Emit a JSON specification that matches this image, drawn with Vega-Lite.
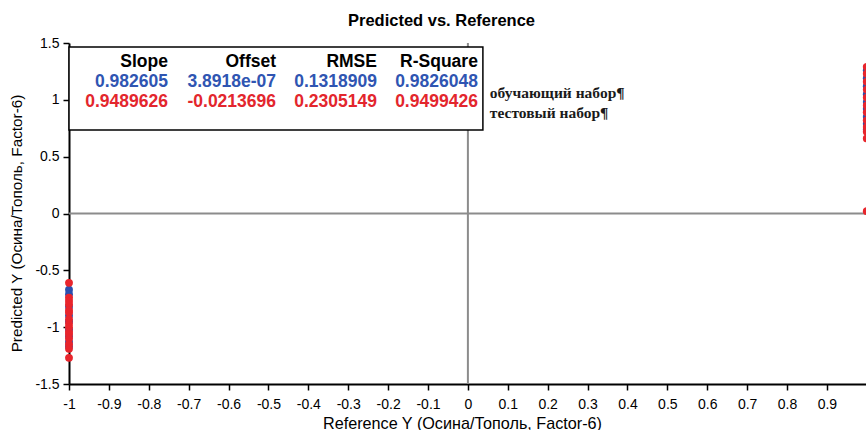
{
  "$schema": "https://vega.github.io/schema/vega-lite/v6.json",
  "width": 797,
  "height": 341,
  "autosize": "none",
  "padding": {"left": 69, "top": 43, "right": 0, "bottom": 46},
  "background": "white",
  "title": {
    "text": "Predicted vs. Reference",
    "font": "Liberation Sans",
    "fontSize": 16.5,
    "fontWeight": "bold",
    "color": "black",
    "offset": 7,
    "dx": -26
  },
  "datasets": {
    "points": [
      {"ref": -1, "pred": -0.67, "set": "train"},
      {"ref": -1, "pred": -0.71, "set": "train"},
      {"ref": -1, "pred": -0.82, "set": "train"},
      {"ref": -1, "pred": -0.90, "set": "train"},
      {"ref": -1, "pred": -0.95, "set": "train"},
      {"ref": -1, "pred": -1.02, "set": "train"},
      {"ref": -1, "pred": -1.08, "set": "train"},
      {"ref": -1, "pred": -1.13, "set": "train"},
      {"ref": -1, "pred": -1.17, "set": "train"},
      {"ref": 1, "pred": 1.26, "set": "train"},
      {"ref": 1, "pred": 1.19, "set": "train"},
      {"ref": 1, "pred": 1.12, "set": "train"},
      {"ref": 1, "pred": 1.05, "set": "train"},
      {"ref": 1, "pred": 0.98, "set": "train"},
      {"ref": 1, "pred": 0.92, "set": "train"},
      {"ref": 1, "pred": 0.85, "set": "train"},
      {"ref": 1, "pred": 0.79, "set": "train"},
      {"ref": 1, "pred": 0.74, "set": "train"},
      {"ref": -1, "pred": -0.61, "set": "test"},
      {"ref": -1, "pred": -0.74, "set": "test"},
      {"ref": -1, "pred": -0.77, "set": "test"},
      {"ref": -1, "pred": -0.80, "set": "test"},
      {"ref": -1, "pred": -0.85, "set": "test"},
      {"ref": -1, "pred": -0.87, "set": "test"},
      {"ref": -1, "pred": -0.93, "set": "test"},
      {"ref": -1, "pred": -0.97, "set": "test"},
      {"ref": -1, "pred": -1.00, "set": "test"},
      {"ref": -1, "pred": -1.04, "set": "test"},
      {"ref": -1, "pred": -1.06, "set": "test"},
      {"ref": -1, "pred": -1.10, "set": "test"},
      {"ref": -1, "pred": -1.15, "set": "test"},
      {"ref": -1, "pred": -1.19, "set": "test"},
      {"ref": -1, "pred": -1.27, "set": "test"},
      {"ref": 1, "pred": 1.29, "set": "test"},
      {"ref": 1, "pred": 1.23, "set": "test"},
      {"ref": 1, "pred": 1.16, "set": "test"},
      {"ref": 1, "pred": 1.09, "set": "test"},
      {"ref": 1, "pred": 1.02, "set": "test"},
      {"ref": 1, "pred": 0.95, "set": "test"},
      {"ref": 1, "pred": 0.89, "set": "test"},
      {"ref": 1, "pred": 0.82, "set": "test"},
      {"ref": 1, "pred": 0.76, "set": "test"},
      {"ref": 1, "pred": 0.72, "set": "test"},
      {"ref": 1, "pred": 0.66, "set": "test"},
      {"ref": 1, "pred": 0.02, "set": "test"}
    ],
    "fit": [
      {"set": "train", "Slope": "0.982605", "Offset": "3.8918e-07", "RMSE": "0.1318909", "RSquare": "0.9826048"},
      {"set": "test", "Slope": "0.9489626", "Offset": "-0.0213696", "RMSE": "0.2305149", "RSquare": "0.9499426"}
    ],
    "one": [{}]
  },
  "config": {
    "view": {"stroke": null},
    "axis": {
      "grid": false,
      "domainColor": "black",
      "domainWidth": 2,
      "tickColor": "black",
      "tickWidth": 1.5,
      "labelFont": "Liberation Sans",
      "labelFontSize": 14,
      "labelColor": "black",
      "labelPadding": 4,
      "labelOverlap": false,
      "labelFlush": false,
      "titleFont": "Liberation Sans",
      "titleFontSize": 15,
      "titleFontWeight": "normal",
      "titleColor": "black"
    },
    "text": {"font": "Liberation Sans", "fontSize": 17.5, "fontWeight": "bold", "align": "right", "baseline": "middle"}
  },
  "layer": [
    {
      "data": {"name": "one"},
      "mark": {"type": "rule", "color": "#8c8c8c", "strokeWidth": 2},
      "encoding": {"x": {"datum": 0, "type": "quantitative"}}
    },
    {
      "data": {"name": "one"},
      "mark": {"type": "rule", "color": "#8c8c8c", "strokeWidth": 2},
      "encoding": {"y": {"datum": 0, "type": "quantitative"}}
    },
    {
      "data": {"name": "points"},
      "mark": {"type": "point", "filled": true, "size": 62, "opacity": 1, "shape": "circle"},
      "encoding": {
        "x": {
          "field": "ref",
          "type": "quantitative",
          "scale": {"domain": [-1, 0.998], "nice": false, "zero": false},
          "axis": {
            "title": "Reference Y (Осина/Тополь, Factor-6)",
            "titleFontSize": 16.2,
            "titlePadding": 4,
            "titleX": 393,
            "labelPadding": 7,
            "labelOverlap": false,
            "labelFlush": false,
            "values": [-1, -0.95, -0.9, -0.85, -0.8, -0.75, -0.7, -0.65, -0.6, -0.55, -0.5, -0.45, -0.4, -0.35, -0.3, -0.25, -0.2, -0.15, -0.1, -0.05, 0, 0.05, 0.1, 0.15, 0.2, 0.25, 0.3, 0.35, 0.4, 0.45, 0.5, 0.55, 0.6, 0.65, 0.7, 0.75, 0.8, 0.85, 0.9, 0.95],
            "labelExpr": "abs(datum.value * 10 - round(datum.value * 10)) < 0.001 ? '' + datum.value : ''",
            "tickSize": {"condition": {"test": "abs(datum.value * 10 - round(datum.value * 10)) < 0.001", "value": 6}, "value": 4}
          }
        },
        "y": {
          "field": "pred",
          "type": "quantitative",
          "scale": {"domain": [-1.5, 1.5], "nice": false, "zero": false},
          "axis": {
            "title": "Predicted Y (Осина/Тополь, Factor-6)",
            "titleFontSize": 15.3,
            "titlePadding": 10,
            "titleY": 180,
            "labelOverlap": false,
            "values": [-1.5, -1.25, -1, -0.75, -0.5, -0.25, 0, 0.25, 0.5, 0.75, 1, 1.25, 1.5],
            "labelExpr": "abs(datum.value * 2 - round(datum.value * 2)) < 0.001 ? '' + datum.value : ''",
            "tickSize": {"condition": {"test": "abs(datum.value * 2 - round(datum.value * 2)) < 0.001", "value": 6}, "value": 4}
          }
        },
        "color": {
          "field": "set",
          "type": "nominal",
          "scale": {"domain": ["train", "test"], "range": ["#2b4fae", "#e8252c"]},
          "legend": null
        }
      }
    },
    {
      "data": {"name": "one"},
      "mark": {"type": "rect", "fill": "white", "stroke": "black", "strokeWidth": 1.5},
      "encoding": {
        "x": {"datum": -1, "type": "quantitative"},
        "x2": {"datum": 0.0376},
        "y": {"datum": 1.464, "type": "quantitative"},
        "y2": {"datum": 0.734}
      }
    },
    {"data": {"name": "one"}, "mark": {"type": "text", "text": "Slope", "color": "black"},
     "encoding": {"x": {"datum": -0.752, "type": "quantitative"}, "y": {"datum": 1.332, "type": "quantitative"}}},
    {"data": {"name": "one"}, "mark": {"type": "text", "text": "Offset", "color": "black"},
     "encoding": {"x": {"datum": -0.481, "type": "quantitative"}, "y": {"datum": 1.332, "type": "quantitative"}}},
    {"data": {"name": "one"}, "mark": {"type": "text", "text": "RMSE", "color": "black"},
     "encoding": {"x": {"datum": -0.228, "type": "quantitative"}, "y": {"datum": 1.332, "type": "quantitative"}}},
    {"data": {"name": "one"}, "mark": {"type": "text", "text": "R-Square", "color": "black"},
     "encoding": {"x": {"datum": 0.025, "type": "quantitative"}, "y": {"datum": 1.332, "type": "quantitative"}}},
    {"data": {"name": "fit"}, "transform": [{"filter": "datum.set === 'train'"}], "mark": {"type": "text", "color": "#2f55b2"},
     "encoding": {"x": {"datum": -0.752, "type": "quantitative"}, "y": {"datum": 1.155, "type": "quantitative"}, "text": {"field": "Slope"}}},
    {"data": {"name": "fit"}, "transform": [{"filter": "datum.set === 'train'"}], "mark": {"type": "text", "color": "#2f55b2"},
     "encoding": {"x": {"datum": -0.481, "type": "quantitative"}, "y": {"datum": 1.155, "type": "quantitative"}, "text": {"field": "Offset"}}},
    {"data": {"name": "fit"}, "transform": [{"filter": "datum.set === 'train'"}], "mark": {"type": "text", "color": "#2f55b2"},
     "encoding": {"x": {"datum": -0.228, "type": "quantitative"}, "y": {"datum": 1.155, "type": "quantitative"}, "text": {"field": "RMSE"}}},
    {"data": {"name": "fit"}, "transform": [{"filter": "datum.set === 'train'"}], "mark": {"type": "text", "color": "#2f55b2"},
     "encoding": {"x": {"datum": 0.025, "type": "quantitative"}, "y": {"datum": 1.155, "type": "quantitative"}, "text": {"field": "RSquare"}}},
    {"data": {"name": "fit"}, "transform": [{"filter": "datum.set === 'test'"}], "mark": {"type": "text", "color": "#e3262d"},
     "encoding": {"x": {"datum": -0.752, "type": "quantitative"}, "y": {"datum": 0.98, "type": "quantitative"}, "text": {"field": "Slope"}}},
    {"data": {"name": "fit"}, "transform": [{"filter": "datum.set === 'test'"}], "mark": {"type": "text", "color": "#e3262d"},
     "encoding": {"x": {"datum": -0.481, "type": "quantitative"}, "y": {"datum": 0.98, "type": "quantitative"}, "text": {"field": "Offset"}}},
    {"data": {"name": "fit"}, "transform": [{"filter": "datum.set === 'test'"}], "mark": {"type": "text", "color": "#e3262d"},
     "encoding": {"x": {"datum": -0.228, "type": "quantitative"}, "y": {"datum": 0.98, "type": "quantitative"}, "text": {"field": "RMSE"}}},
    {"data": {"name": "fit"}, "transform": [{"filter": "datum.set === 'test'"}], "mark": {"type": "text", "color": "#e3262d"},
     "encoding": {"x": {"datum": 0.025, "type": "quantitative"}, "y": {"datum": 0.98, "type": "quantitative"}, "text": {"field": "RSquare"}}},
    {"data": {"name": "one"}, "mark": {"type": "text", "text": "обучающий набор¶", "font": "Liberation Serif", "fontSize": 15.5, "fontWeight": "bold", "align": "left", "color": "#1a1a1a"},
     "encoding": {"x": {"datum": 0.055, "type": "quantitative"}, "y": {"datum": 1.06, "type": "quantitative"}}},
    {"data": {"name": "one"}, "mark": {"type": "text", "text": "тестовый набор¶", "font": "Liberation Serif", "fontSize": 15.5, "fontWeight": "bold", "align": "left", "color": "#1a1a1a"},
     "encoding": {"x": {"datum": 0.055, "type": "quantitative"}, "y": {"datum": 0.885, "type": "quantitative"}}}
  ]
}
